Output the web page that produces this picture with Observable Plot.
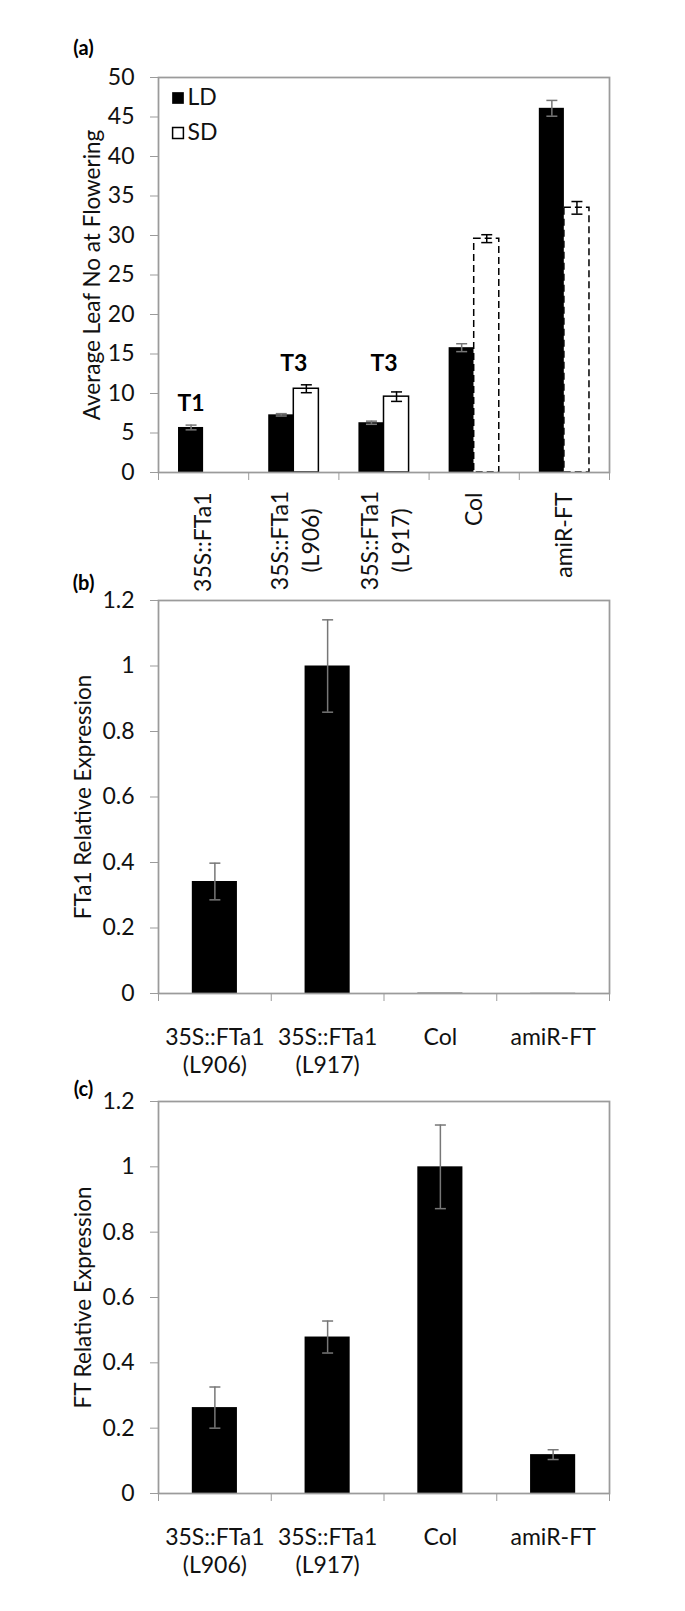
<!DOCTYPE html>
<html><head><meta charset="utf-8">
<script src="https://cdn.jsdelivr.net/npm/d3@7"></script>
<script src="https://cdn.jsdelivr.net/npm/@observablehq/plot@0.6"></script>
<style>
html,body{margin:0;padding:0;background:#fff;}
#chart svg{display:block;}
</style></head><body><div id="chart"></div>
<script>
// ---------- data: panel (a) ----------
const linesA = ["35S::FTa1", "35S::FTa1\n(L906)", "35S::FTa1\n(L917)", "Col", "amiR-FT"];
const generationA = ["T1", "T3", "T3", "", ""];
const seriesNames = ["LD", "SD"];
const ldMean = [5.7, 7.3, 6.3, 15.8, 46.1];
const ldErr = [0.3, 0.15, 0.2, 0.5, 1.0];
const sdMean = [null, 10.6, 9.6, 29.6, 33.5];
const sdErr = [null, 0.5, 0.6, 0.5, 0.8];
const controlLines = ["Col", "amiR-FT"];
const yTicksA = [0, 5, 10, 15, 20, 25, 30, 35, 40, 45, 50];
const yTitleA = "Average Leaf No at Flowering";

// ---------- data: panels (b) and (c) ----------
const linesBC = ["35S::FTa1\n(L906)", "35S::FTa1\n(L917)", "Col", "amiR-FT"];
const fta1Expr = [0.342, 1.0, 0.001, 0.0005];
const fta1Err = [0.056, 0.141, 0, 0];
const ftExpr = [0.263, 0.479, 1.0, 0.119];
const ftErr = [0.063, 0.049, 0.128, 0.015];
const yTicksBC = [0, 0.2, 0.4, 0.6, 0.8, 1, 1.2];
const yTitleB = "FTa1 Relative Expression";
const yTitleC = "FT Relative Expression";

// ---------- styling ----------
const FONT = "Lato, 'Open Sans', sans-serif";
const FRAME = "#9b9b9b";
const ERRGRAY = "#777777";
const W = 685;
const TICKFS = 23, TITLEFS = 22.5, TAGFS = 20;
const cap = {draw(ctx, size) { const r = Math.sqrt(size / Math.PI); ctx.moveTo(-r, 0); ctx.lineTo(r, 0); }};
const style = {fontFamily: FONT, fontSize: TICKFS + "px", color: "#111", background: "white", overflow: "visible"};

function errMarks(rows, color) {
  const r = rows.filter(d => d.err > 0);
  const cx = d => (d.x1 + d.x2) / 2;
  return [
    Plot.ruleX(r, {x: cx, y1: d => d.value - d.err, y2: d => d.value + d.err, stroke: color, strokeWidth: 1.5}),
    Plot.dot(r, {x: cx, y: d => d.value + d.err, symbol: cap, r: 5.5, stroke: color, strokeWidth: 1.5, fill: "none"}),
    Plot.dot(r, {x: cx, y: d => d.value - d.err, symbol: cap, r: 5.5, stroke: color, strokeWidth: 1.5, fill: "none"})
  ];
}

// ---------- panel (a) ----------
const ldRows = linesA.map((c, i) => ({i, value: ldMean[i], err: ldErr[i], x1: i + 0.222, x2: i + 0.5}));
const sdRows = linesA.map((c, i) => ({i, c, value: sdMean[i], err: sdErr[i], x1: i + 0.5, x2: i + 0.778}))
  .filter(d => d.value != null);
const groupTop = linesA.map((c, i) => Math.max(ldMean[i] + ldErr[i], sdMean[i] != null ? sdMean[i] + sdErr[i] : 0));
const genRows = linesA.map((c, i) => ({
  label: generationA[i],
  x: sdMean[i] != null ? i + 0.5 : i + 0.361,
  y: d3.max(linesA.map((_, j) => j).filter(j => generationA[j] === generationA[i]), j => groupTop[j])
})).filter(d => d.label);
const nA = linesA.length;
const singleA = d3.range(nA).filter(i => !linesA[i].includes("\n")).map(i => i + 0.5);
const multiA = d3.range(nA).filter(i => linesA[i].includes("\n")).map(i => i + 0.5);

const plotA = Plot.plot({
  width: W, height: 560,
  marginTop: 77, marginBottom: 88, marginLeft: 158, marginRight: 76,
  style,
  x: {domain: [0, nA]},
  y: {domain: [0, 50]},
  marks: [
    Plot.rect(ldRows, {x1: "x1", x2: "x2", y1: 0, y2: "value", fill: "#000"}),
    Plot.rect(sdRows.filter(d => !controlLines.includes(d.c)), {x1: "x1", x2: "x2", y1: 0, y2: "value", fill: "#fff", stroke: "#000", strokeWidth: 1.5}),
    Plot.rect(sdRows.filter(d => controlLines.includes(d.c)), {x1: "x1", x2: "x2", y1: 0, y2: "value", fill: "#fff", stroke: "#000", strokeWidth: 1.5, strokeDasharray: "7,4"}),
    ...errMarks(ldRows, ERRGRAY),
    ...errMarks(sdRows, "#000"),
    Plot.text(genRows, {x: "x", y: "y", text: "label", dy: -21, fontSize: 23, fontWeight: "bold", fill: "#000"}),
    Plot.frame({stroke: FRAME, strokeWidth: 1.75}),
    Plot.axisY({ticks: yTicksA, tickSize: 8, tickPadding: 16, stroke: FRAME, fill: "#111", label: null}),
    Plot.axisX(d3.range(nA + 1), {tickSize: 8, stroke: FRAME, tickFormat: () => "", label: null}),
    Plot.axisX(singleA, {tickSize: 0, tickRotate: -90, tickPadding: 20, textAnchor: "end", lineAnchor: "middle", tickFormat: v => linesA[Math.floor(v)], fill: "#111", label: null}),
    Plot.axisX(multiA, {tickSize: 0, tickRotate: -90, tickPadding: 68, textAnchor: "middle", lineAnchor: "middle", lineHeight: 1.35, tickFormat: v => linesA[Math.floor(v)], fill: "#111", label: null}),
    Plot.text([yTitleA], {frameAnchor: "left", dx: -66, rotate: -90, textAnchor: "middle", lineAnchor: "middle", fontSize: TITLEFS, fill: "#111"}),
    Plot.text(["(a)"], {frameAnchor: "top-left", dx: -75, dy: -29, textAnchor: "middle", lineAnchor: "middle", fontSize: TAGFS, fontWeight: "bold", fill: "#000"}),
    Plot.dot([seriesNames[0]], {frameAnchor: "top-left", dx: 19.5, dy: 20.5, symbol: "square", r: 6.6, fill: "#000"}),
    Plot.text([seriesNames[0]], {frameAnchor: "top-left", dx: 29, dy: 20.5, textAnchor: "start", lineAnchor: "middle", fontSize: TICKFS, fill: "#111"}),
    Plot.dot([seriesNames[1]], {frameAnchor: "top-left", dx: 19.5, dy: 55.5, symbol: "square", r: 6.1, fill: "#fff", stroke: "#000", strokeWidth: 1.5}),
    Plot.text([seriesNames[1]], {frameAnchor: "top-left", dx: 29, dy: 55.5, textAnchor: "start", lineAnchor: "middle", fontSize: TICKFS, fill: "#111"})
  ]
});

// ---------- panels (b) and (c) ----------
function exprPlot(values, errs, title, tag, height, marginTop, marginBottom, tagDy) {
  const n = linesBC.length;
  const rows = linesBC.map((c, i) => ({i, value: values[i], err: errs[i], x1: i + 0.3, x2: i + 0.7}));
  return Plot.plot({
    width: W, height,
    marginTop, marginBottom, marginLeft: 158, marginRight: 76,
    style,
    x: {domain: [0, n]},
    y: {domain: [0, 1.2]},
    marks: [
      Plot.rect(rows, {x1: "x1", x2: "x2", y1: 0, y2: "value", fill: "#000"}),
      ...errMarks(rows, ERRGRAY),
      Plot.frame({stroke: FRAME, strokeWidth: 1.75}),
      Plot.axisY({ticks: yTicksBC, tickSize: 8, tickPadding: 16, stroke: FRAME, fill: "#111", label: null, tickFormat: d => String(+d.toFixed(1))}),
      Plot.axisX(d3.range(n + 1), {tickSize: 8, stroke: FRAME, tickFormat: () => "", label: null}),
      Plot.axisX(d3.range(n).map(i => i + 0.5), {tickSize: 0, tickPadding: 32, textAnchor: "middle", lineAnchor: "top", lineHeight: 1.22, tickFormat: v => linesBC[Math.floor(v)], fill: "#111", label: null}),
      Plot.text([title], {frameAnchor: "left", dx: -75, rotate: -90, textAnchor: "middle", lineAnchor: "middle", fontSize: TITLEFS, fill: "#111"}),
      Plot.text([tag], {frameAnchor: "top-left", dx: -75, dy: tagDy, textAnchor: "middle", lineAnchor: "middle", fontSize: TAGFS, fontWeight: "bold", fill: "#000"})
    ]
  });
}

const plotB = exprPlot(fta1Expr, fta1Err, yTitleB, "(b)", 510, 40, 77, -17);
const plotC = exprPlot(ftExpr, ftErr, yTitleC, "(c)", 541, 31, 118, -12);

document.getElementById("chart").append(plotA, plotB, plotC);
</script>
</body></html>
